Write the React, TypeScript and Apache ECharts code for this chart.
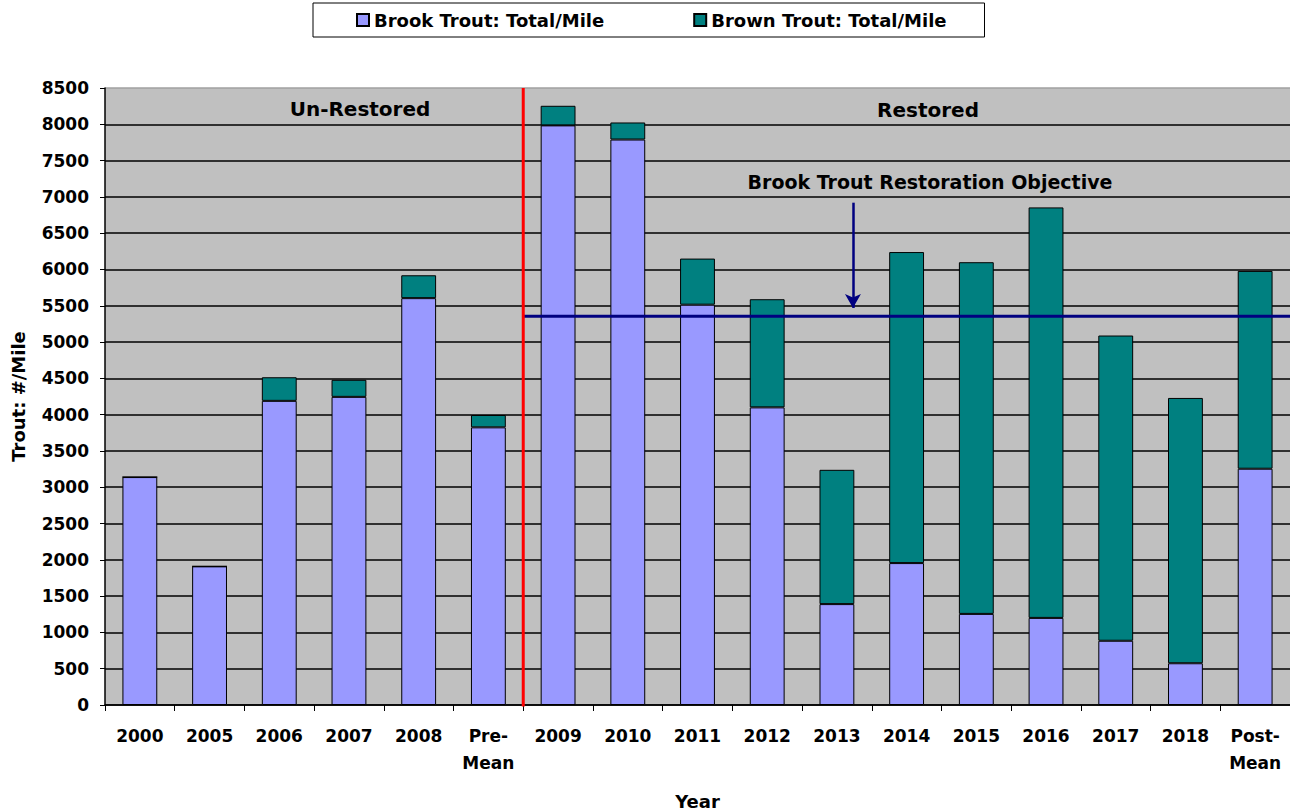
import React, { useEffect, useRef } from "react";
import * as echarts from "echarts";

const categories = ["2000", "2005", "2006", "2007", "2008", "Pre-\nMean", "2009", "2010", "2011", "2012", "2013", "2014", "2015", "2016", "2017", "2018", "Post-\nMean"];
const brookTrout = [3140, 1910, 4190, 4245, 5605, 3825, 7985, 7790, 5515, 4100, 1390, 1955, 1255, 1200, 885, 575, 3255];
const brownTrout = [0, 0, 325, 235, 315, 170, 270, 235, 635, 1490, 1850, 4285, 4845, 5655, 4205, 3655, 2725];
const objective = 5355;
const dividerPos = 6; // boundary between Pre-Mean and 2009 on 0..17 scale
const arrowX = 10.73;
const arrowTop = 6920;
const arrowTip = 5470;

const FONT = "'DejaVu Sans', 'Liberation Sans', Arial, sans-serif";

export default function App() {
  const ref = useRef<HTMLDivElement>(null);
  useEffect(() => {
    const chart = echarts.init(ref.current!, undefined, { renderer: "svg" });
    const gridColors = Array.from({ length: 18 }, (_, i) => (i === 17 ? "#a0a0a0" : "#000000"));
    chart.setOption({
      animation: false,
      backgroundColor: "#ffffff",
      textStyle: { fontFamily: FONT },
      legend: {
        left: 313,
        top: 3,
        orient: "horizontal",
        borderColor: "#000",
        borderWidth: 1,
        backgroundColor: "#fff",
        padding: [8, 38, 8, 43],
        itemGap: 89,
        itemWidth: 12,
        itemHeight: 12,
        icon: "rect",
        textStyle: { fontFamily: FONT, fontWeight: "bold", fontSize: 18, color: "#000" },
        data: ["Brook Trout: Total/Mile", "Brown Trout: Total/Mile"],
      },
      grid: {
        left: 105, right: 0, top: 88, bottom: 106,
        containLabel: false, outerBoundsMode: "none",
        show: true, backgroundColor: "#c0c0c0", borderColor: "#a0a0a0", borderWidth: 0,
      },
      xAxis: [
        {
          type: "category",
          data: categories,
          name: "Year",
          nameLocation: "middle",
          nameGap: 87,
          nameTextStyle: { fontFamily: FONT, fontWeight: "bold", fontSize: 18, color: "#000" },
          axisLine: { lineStyle: { color: "#000", width: 1.5 } },
          axisTick: { show: true, length: 6, lineStyle: { color: "#000" } },
          axisLabel: { fontFamily: FONT, fontWeight: "bold", fontSize: 17, color: "#000", margin: 17, lineHeight: 27, interval: 0 },
        },
        { type: "value", min: 0, max: 17, show: false },
      ],
      yAxis: {
        type: "value",
        min: 0,
        max: 8500,
        interval: 500,
        name: "Trout: #/Mile",
        nameLocation: "middle",
        nameGap: 78,
        nameTextStyle: { fontFamily: FONT, fontWeight: "bold", fontSize: 18, color: "#000" },
        axisLine: { show: true, lineStyle: { color: "#000", width: 1.5 } },
        axisTick: { show: true, length: 5, lineStyle: { color: "#000" } },
        axisLabel: { fontFamily: FONT, fontWeight: "bold", fontSize: 17, color: "#000", margin: 16, formatter: (v: number) => String(v) },
        splitLine: { show: true, lineStyle: { color: gridColors, width: 1.5 } },
      },
      series: [
        {
          name: "Brook Trout: Total/Mile",
          type: "bar",
          stack: "t",
          barWidth: "50%",
          data: brookTrout,
          itemStyle: { color: "#9999ff", borderColor: "#000", borderWidth: 1 },
        },
        {
          name: "Brown Trout: Total/Mile",
          type: "bar",
          stack: "t",
          barWidth: "50%",
          data: brownTrout,
          itemStyle: { color: "#008080", borderColor: "#000", borderWidth: 1 },
        },
        {
          type: "line",
          xAxisIndex: 1,
          data: [[dividerPos, objective], [17, objective]],
          symbol: "none",
          lineStyle: { color: "#000080", width: 3 },
          silent: true,
          z: 5,
          markLine: {
            silent: true,
            symbol: ["none", "arrow"],
            symbolSize: [12, 14],
            label: { show: false },
            lineStyle: { color: "#000080", width: 2.5, type: "solid" },
            data: [[{ coord: [arrowX, arrowTop] }, { coord: [arrowX, arrowTip] }]],
          },
        },
        {
          type: "line",
          xAxisIndex: 1,
          data: [[dividerPos, -50], [dividerPos, 8500]],
          symbol: "none",
          lineStyle: { color: "#ff0000", width: 3 },
          silent: true,
          z: 6,
        },
      ],
      graphic: [
        { type: "text", x: 360, y: 109, style: { text: "Un-Restored", font: `bold 20px ${FONT}`, fill: "#000", align: "center", verticalAlign: "middle" } },
        { type: "text", x: 928, y: 110, style: { text: "Restored", font: `bold 20px ${FONT}`, fill: "#000", align: "center", verticalAlign: "middle" } },
        { type: "text", x: 930, y: 182, style: { text: "Brook Trout Restoration Objective", font: `bold 19px ${FONT}`, fill: "#000", align: "center", verticalAlign: "middle" } },
      ],
    });
    return () => chart.dispose();
  }, []);
  return <div ref={ref} style={{ position: "fixed", left: 0, top: 0, width: 1290, height: 811 }} />;
}
